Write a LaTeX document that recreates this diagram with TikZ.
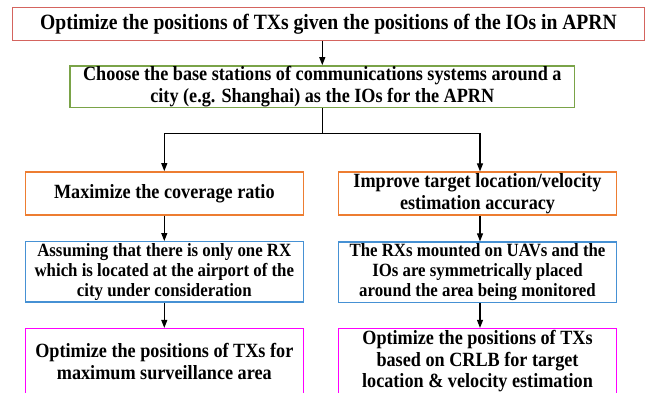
\documentclass[tikz,border=0pt]{standalone}
\usepackage{fontspec}
\setmainfont{Liberation Serif}[FakeStretch=0.9]
\usetikzlibrary{arrows.meta}
\definecolor{cRed}{RGB}{212,100,94}
\definecolor{cGreen}{RGB}{122,163,72}
\definecolor{cOrange}{RGB}{237,125,49}
\definecolor{cBlue}{RGB}{70,145,212}
\definecolor{cMag}{RGB}{255,0,255}
\begin{document}
\begin{tikzpicture}[x=1pt,y=-1pt,
  box/.style={draw, line width=1.4pt, inner sep=0pt, align=center, text=black,
    font=\bfseries\fontsize{20.2}{21.5}\selectfont},
  smallbox/.style={box, font=\bfseries\fontsize{18.7}{20}\selectfont},
  arr/.style={draw=black, line width=1.1pt, -{Triangle[length=8pt,width=6pt]}},
  ln/.style={draw=black, line width=1.1pt}]
\useasboundingbox (0,0) rectangle (647,392);
\clip (0,0) rectangle (647,392);
\fill[white] (0,0) rectangle (647,392);

\node[box, draw=cRed, minimum width=631.6pt, minimum height=33pt,
  font=\bfseries\fontsize{21.8}{22}\selectfont] (top) at (328.5,23.8)
  {Optimize the positions of TXs given the positions of the IOs in APRN};

\node[box, draw=cGreen, minimum width=504.7pt, minimum height=41.5pt] (green) at (322.3,86.6)
  {Choose the base stations of communications systems around a\\city (e.g. Shanghai) as the IOs for the APRN};

\node[box, draw=cOrange, minimum width=278pt, minimum height=43pt] (oL) at (164.3,193.3)
  {Maximize the coverage ratio};
\node[box, draw=cOrange, minimum width=277.6pt, minimum height=43pt] (oR) at (477.5,193.6)
  {Improve target location/velocity\\estimation accuracy};

\node[smallbox, draw=cBlue, minimum width=278pt, minimum height=60.3pt] (bL) at (164.3,271.9)
  {Assuming that there is only one RX\\which is located at the airport of the\\city under consideration};
\node[smallbox, draw=cBlue, minimum width=277.6pt, minimum height=60.3pt] (bR) at (477.5,272.2)
  {The RXs mounted on UAVs and the\\IOs are symmetrically placed\\around the area being monitored};

\node[box, draw=cMag, minimum width=278pt, minimum height=65.5pt] (mL) at (164.3,361.3)
  {Optimize the positions of TXs for\\maximum surveillance area};
\node[box, draw=cMag, minimum width=277.6pt, minimum height=65.5pt] (mR) at (477.5,361.3)
  {Optimize the positions of TXs\\based on CRLB for target\\location \& velocity estimation};

\draw[arr] (top.south -| green.north) -- (green.north);
\path (green.south) ++(0,25.5) coordinate (split);
\draw[ln] (green.south) -- (split);
\draw[arr] (split) -| (oL.north);
\draw[arr] (split) -| ([xshift=2.5pt]oR.north);
\draw[arr] (oL.south) -- (bL.north);
\draw[arr] (bL.south) -- (mL.north);
\draw[arr] ([xshift=2.5pt]oR.south) -- ([xshift=2.5pt]bR.north);
\draw[arr] ([xshift=2.5pt]bR.south) -- ([xshift=2.5pt]mR.north);
\end{tikzpicture}
\end{document}
